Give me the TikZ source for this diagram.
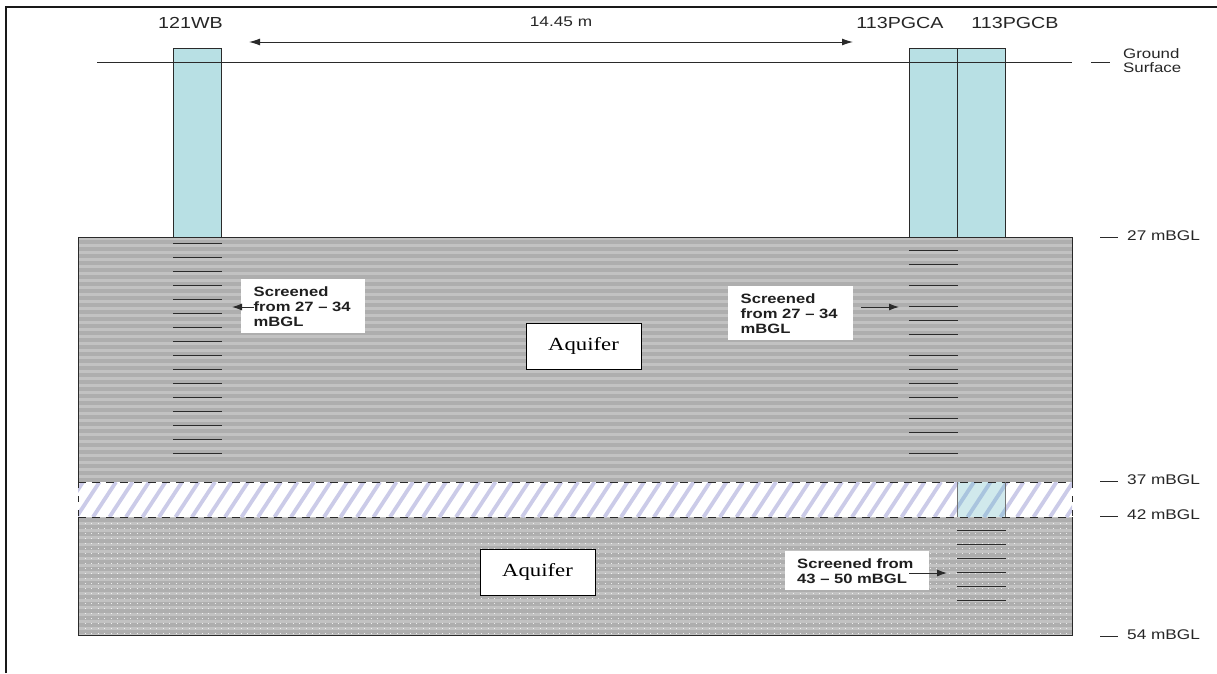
\documentclass[tikz,border=0pt]{standalone}
\usepackage{fontspec}
\setmainfont[FakeStretch=1.23]{Liberation Sans}
\newfontfamily\serifstretched[FakeStretch=1.23]{Liberation Serif}
\usetikzlibrary{arrows.meta}
\definecolor{wellblue}{HTML}{B8E0E4}
\definecolor{wellpale}{HTML}{D0E9EC}
\definecolor{wellhatch}{HTML}{A9C4DE}
\definecolor{stripedark}{HTML}{AEAEAE}
\definecolor{stripelight}{HTML}{C2C2C2}
\definecolor{hatchlilac}{HTML}{CBCBE8}
\definecolor{inkline}{HTML}{2A2A2A}
\tikzset{
  x=1pt,y=-1pt,
  wellbox/.style={draw=inkline,line width=1.2pt,fill=wellblue,minimum width=48pt,minimum height=189pt,inner sep=0pt,anchor=north west},
  ticklines/.style={draw=inkline,line width=1.2pt},
  thinline/.style={draw=inkline,line width=1pt},
  arrowline/.style={draw=inkline,line width=1pt,-{Latex[length=10pt,width=7pt]}},
  toplabel/.style={inner sep=0pt,font=\fontsize{16}{19}\selectfont,text=black!85},
  sidelabel/.style={inner sep=0pt,anchor=west,align=left,font=\fontsize{13.7}{14.7}\selectfont,text=black!85},
  notebox/.style={fill=white,inner sep=0pt,anchor=north west},
  notetext/.style={inner sep=0pt,anchor=west,align=left,font=\fontsize{13.5}{14.7}\selectfont\bfseries,text=black!88},
  aquiferbox/.style={draw=black,line width=1pt,fill=white,minimum width=115pt,minimum height=46pt,inner sep=0pt,font=\serifstretched\fontsize{18.5}{20}\selectfont,anchor=center},
}
\begin{document}
\begin{tikzpicture}
\useasboundingbox (0,0) rectangle (1217,673);
\fill[white] (0,0) rectangle (1217,673);
% page frame
\coordinate (frameA) at (6,673);
\coordinate (frameB) at (6,7);
\coordinate (frameC) at (1217,7);
\draw[line width=2pt,draw=black!90] (frameA) -- (frameB) -- (frameC);
% upper aquifer
\fill[stripelight] (78,237) rectangle (1072,482);
\foreach \yy in {240,247,...,478}{\fill[stripedark] (78,\yy) rectangle (1072,\yy+3.5);}
% lower aquifer
\fill[stripelight] (78,517) rectangle (1072,635);
\foreach \yy in {518,525,...,630}{\fill[stripedark] (78,\yy) rectangle (1072,\yy+3.5);}
\foreach \yy in {523,528,...,633}{\draw[white,opacity=0.8,line width=0.7pt,dash pattern=on 0.9pt off 5.6pt] (78,\yy) -- (1072,\yy);}
% hatched band
\fill[white] (78,482) rectangle (1072,517);
\fill[wellpale] (957,482) rectangle (1005,517);
\begin{scope}
\clip (78,482) rectangle (957,517);
\foreach \xx in {60,76.5,...,980}{\draw[hatchlilac,line width=3.8pt] (\xx,517) -- (\xx+23,482);}
\end{scope}
\begin{scope}
\clip (1005,482) rectangle (1072,517);
\foreach \xx in {60,76.5,...,1095}{\draw[hatchlilac,line width=3.8pt] (\xx,517) -- (\xx+23,482);}
\end{scope}
\begin{scope}
\clip (957,482) rectangle (1005,517);
\foreach \xx in {60,76.5,...,1095}{\draw[wellhatch,line width=3.8pt] (\xx,517) -- (\xx+23,482);}
\end{scope}
% aquifer outlines
\draw[inkline,line width=1pt] (78,482) -- (78,237) -- (1072,237) -- (1072,482);
\draw[inkline,line width=1pt] (78,517) -- (78,635) -- (1072,635) -- (1072,517);
\draw[inkline,line width=1pt,dash pattern=on 8pt off 6pt] (78,482) -- (1072,482);
\draw[inkline,line width=1pt,dash pattern=on 8pt off 6pt] (78,517) -- (1072,517);
\draw[inkline,line width=1pt,dash pattern=on 6pt off 8pt] (78,482) -- (78,517);
\draw[inkline,line width=1pt,dash pattern=on 6pt off 8pt] (1072,482) -- (1072,517);
% wells
\node[wellbox] (wellWB) at (173,48) {};
\node[wellbox] (wellA) at (909,48) {};
\node[wellbox] (wellB) at (957,48) {};
% deep well through the band
\draw[black!55,line width=0.9pt] (957,482) -- (957,517) (1005,482) -- (1005,517);
% ground surface
\coordinate (groundL) at (97,62.5);
\coordinate (groundR) at (1072,62.5);
\draw[thinline] (groundL) -- (groundR);
% screens
\foreach \yy in {243.5,257.5,271.5,285.5,299.5,313.5,327.5,341.5,355.5,369.5,383.5,397.5,411.5,425.5,439.5,453.5}{\draw[ticklines] (173,\yy) -- (222,\yy);}
\foreach \yy in {250.5,264.5,285.5,306.5,320.5,334.5,355.5,369.5,383.5,397.5,418.5,432.5,453.5}{\draw[ticklines] (909,\yy) -- (957.5,\yy);}
\foreach \yy in {530.5,544.5,558.5,572.5,586.5,600.5}{\draw[ticklines] (957,\yy) -- (1005.5,\yy);}
% distance arrow
\coordinate (spanL) at (249,42);
\coordinate (spanR) at (853,42);
\draw[thinline,{Latex[length=11pt,width=7pt]}-{Latex[length=11pt,width=7pt]}] (spanL) -- (spanR);
\node[inner sep=0pt,font=\fontsize{14}{16}\selectfont,text=black!85] (spanlabel) at (561,22) {14.45 m};
% well names
\node[toplabel] (nameWB) at (190.5,23) {121WB};
\node[toplabel] (nameA) at (900,23) {113PGCA};
\node[toplabel] (nameB) at (1015,23) {113PGCB};
% depth marks
\foreach \nm/\xa/\xb/\yy in {g/1091/1110/62.5,a/1100/1118/237,b/1100/1118/481.5,c/1100/1118/516,d/1100/1118/636}{
  \coordinate (m\nm L) at (\xa,\yy);
  \coordinate (m\nm R) at (\xb,\yy);
  \draw[thinline] (m\nm L) -- (m\nm R);
}
\node[sidelabel] (lblG) at (1123,60.5) {Ground\\Surface};
\node[sidelabel,font=\fontsize{14}{16}\selectfont] (lbl27) at (1127,236) {27 mBGL};
\node[sidelabel,font=\fontsize{14}{16}\selectfont] (lbl37) at (1127,480) {37 mBGL};
\node[sidelabel,font=\fontsize{14}{16}\selectfont] (lbl42) at (1127,515) {42 mBGL};
\node[sidelabel,font=\fontsize{14}{16}\selectfont] (lbl54) at (1127,635) {54 mBGL};
% screen notes
\node[notebox,minimum width=124pt,minimum height=54pt] (noteL) at (241,279) {};
\node[notetext] (noteLt) at (253.5,306.5) {Screened\\from 27 -- 34\\mBGL};
\coordinate (noteLtip) at (232,307);
\draw[arrowline] (noteLt.west |- noteLtip) -- (noteLtip);
\node[notebox,minimum width=125pt,minimum height=54pt] (noteA) at (728,286) {};
\node[notetext] (noteAt) at (740.5,313.5) {Screened\\from 27 -- 34\\mBGL};
\coordinate (noteAs) at (861,307);
\coordinate (noteAtip) at (899,307);
\draw[arrowline] (noteAs) -- (noteAtip);
\node[notebox,minimum width=144pt,minimum height=39pt] (noteB) at (785,551) {};
\node[notetext] (noteBt) at (797,571) {Screened from\\43 -- 50 mBGL};
\coordinate (noteBs) at (909,573);
\coordinate (noteBtip) at (947,573);
\draw[arrowline] (noteBs) -- (noteBtip);
% aquifer labels
\node[aquiferbox] (aq1) at (583.5,346) {Aquifer};
\node[aquiferbox] (aq2) at (537.5,572) {Aquifer};
\end{tikzpicture}
\end{document}
